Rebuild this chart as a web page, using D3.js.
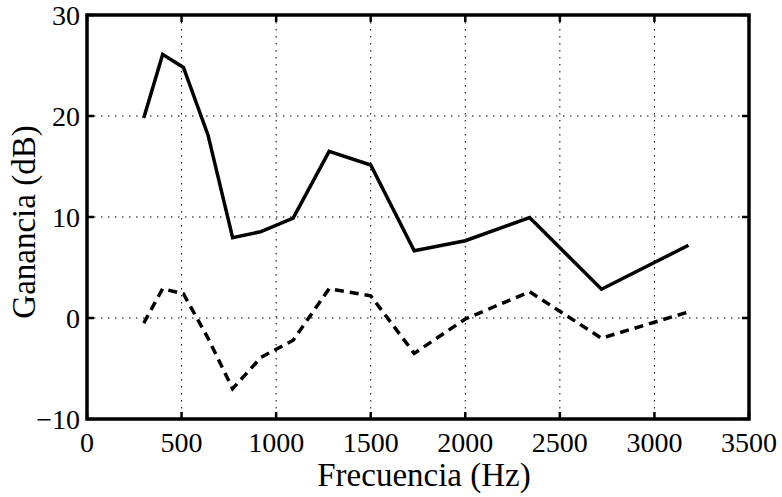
<!DOCTYPE html>
<html>
<head>
<meta charset="utf-8">
<script src="https://cdn.jsdelivr.net/npm/d3@7"></script>
<style>
  body { margin: 0; background: #fff; }
  svg { display: block; }
  text { font-family: "Liberation Serif", "Times New Roman", serif; fill: #000; }
</style>
</head>
<body>
<svg id="chart" width="782" height="497"></svg>
<script>
// Data
const frequencies = [300, 400, 510, 640, 770, 920, 1090, 1280, 1500, 1730, 2000, 2340, 2720, 3180];
const gainSolid   = [19.8, 26.1, 24.8, 18.1, 7.95, 8.55, 9.9, 16.5, 15.15, 6.65, 7.65, 9.95, 2.85, 7.2];
const gainDashed  = [-0.5, 2.9, 2.4, -2.0, -7.0, -3.9, -2.2, 2.9, 2.2, -3.5, -0.1, 2.6, -2.0, 0.6];
const xTicks = [0, 500, 1000, 1500, 2000, 2500, 3000, 3500];
const yTicks = [-10, 0, 10, 20, 30];
const xLabel = "Frecuencia (Hz)";
const yLabel = "Ganancia (dB)";

const svg = d3.select("#chart");
const L = 87, R = 749, T = 15, B = 419;
const x = d3.scaleLinear().domain([0, 3500]).range([L, R]);
const y = d3.scaleLinear().domain([-10, 30]).range([B, T]);

// grid
const grid = svg.append("g");
grid.selectAll(".gx").data(xTicks.slice(1, -1)).enter().append("line")
  .attr("x1", d => x(d)).attr("x2", d => x(d)).attr("y1", T).attr("y2", B)
  .attr("stroke", "#000").attr("stroke-width", 1).attr("stroke-dasharray", "1.5,5.5");
grid.selectAll(".gy").data(yTicks.slice(1, -1)).enter().append("line")
  .attr("y1", d => y(d)).attr("y2", d => y(d)).attr("x1", L).attr("x2", R)
  .attr("stroke", "#000").attr("stroke-width", 1).attr("stroke-dasharray", "1.5,5.5");

// ticks (inward, all sides)
const tl = 7;
const ticks = svg.append("g").attr("stroke", "#000").attr("stroke-width", 2.5);
xTicks.forEach(d => {
  ticks.append("line").attr("x1", x(d)).attr("x2", x(d)).attr("y1", B).attr("y2", B - tl);
  ticks.append("line").attr("x1", x(d)).attr("x2", x(d)).attr("y1", T).attr("y2", T + tl);
});
yTicks.forEach(d => {
  ticks.append("line").attr("y1", y(d)).attr("y2", y(d)).attr("x1", L).attr("x2", L + tl);
  ticks.append("line").attr("y1", y(d)).attr("y2", y(d)).attr("x1", R).attr("x2", R - tl);
});

// lines
const line = d3.line().x(d => x(d[0])).y(d => y(d[1]));
svg.append("path").datum(d3.zip(frequencies, gainSolid)).attr("d", line)
  .attr("fill", "none").attr("stroke", "#000").attr("stroke-width", 3.5)
  .attr("stroke-linejoin", "miter");
svg.append("path").datum(d3.zip(frequencies, gainDashed)).attr("d", line)
  .attr("fill", "none").attr("stroke", "#000").attr("stroke-width", 3.5)
  .attr("stroke-dasharray", "9,6");

// frame
svg.append("rect").attr("x", L).attr("y", T).attr("width", R - L).attr("height", B - T)
  .attr("fill", "none").attr("stroke", "#000").attr("stroke-width", 3.5);

// tick labels
svg.append("g").selectAll("text").data(xTicks).enter().append("text")
  .attr("x", d => x(d)).attr("y", 452).attr("text-anchor", "middle")
  .attr("font-size", 28).text(d => d);
svg.append("g").selectAll("text").data(yTicks).enter().append("text")
  .attr("x", 80).attr("y", d => y(d) + 9.5).attr("text-anchor", "end")
  .attr("font-size", 28).text(d => d < 0 ? "\u2212" + Math.abs(d) : d);

// axis labels
svg.append("text").attr("x", (L + R) / 2 + 6).attr("y", 486).attr("text-anchor", "middle")
  .attr("font-size", 33).text(xLabel);
svg.append("text").attr("transform", `translate(35,${(T + B) / 2 + 5}) rotate(-90)`)
  .attr("text-anchor", "middle").attr("font-size", 33).text(yLabel);
</script>
</body>
</html>
